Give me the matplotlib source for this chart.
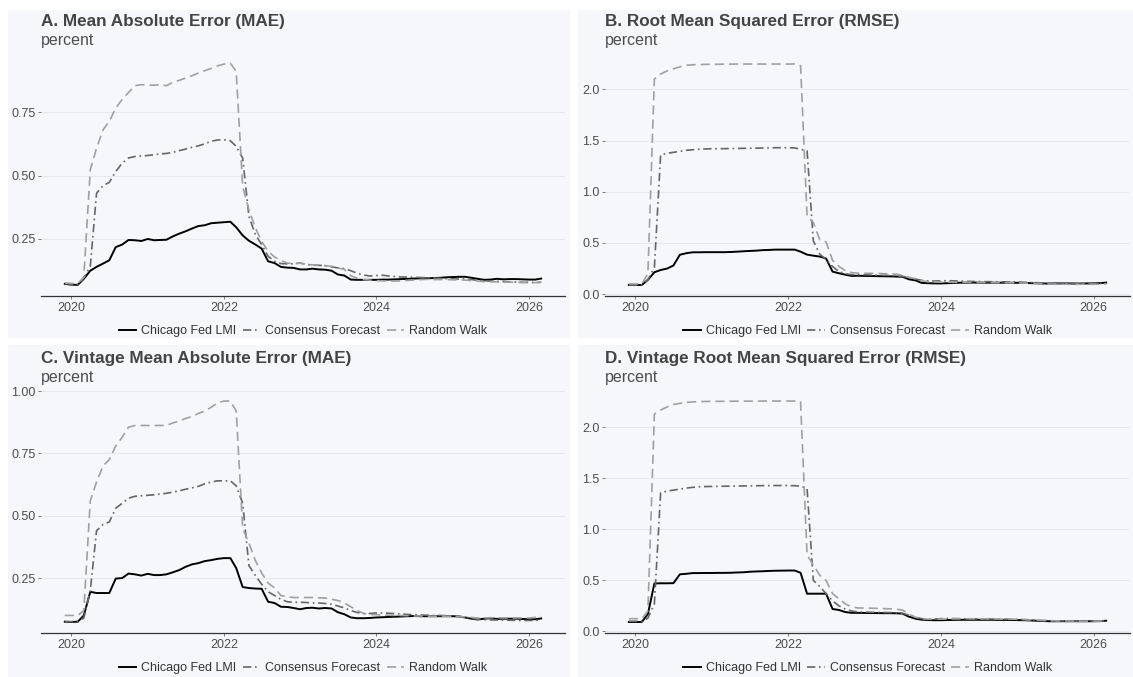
import pandas as pd
import matplotlib.pyplot as plt
import matplotlib.dates as mdates
import matplotlib.ticker as ticker
from matplotlib.patches import Rectangle

plt.rcParams['font.family'] = ['Liberation Sans', 'DejaVu Sans']

# monthly evaluation dates, Dec 2019 - Mar 2026
months = pd.date_range('2019-12-01', periods=76, freq='MS')
series_names = ['Chicago Fed LMI', 'Consensus Forecast', 'Random Walk']
titles = ['A. Mean Absolute Error (MAE)',
          'B. Root Mean Squared Error (RMSE)',
          'C. Vintage Mean Absolute Error (MAE)',
          'D. Vintage Root Mean Squared Error (RMSE)']
subtitle = 'percent'

# A. MAE
lmi_mae = [0.073, 0.070, 0.069, 0.093, 0.125, 0.140, 0.153, 0.166, 0.218, 0.228,
           0.246, 0.245, 0.242, 0.250, 0.245, 0.246, 0.247, 0.260, 0.271, 0.280,
           0.291, 0.301, 0.304, 0.312, 0.314, 0.316, 0.318, 0.296, 0.264, 0.243,
           0.228, 0.212, 0.162, 0.155, 0.140, 0.137, 0.136, 0.130, 0.130, 0.133,
           0.130, 0.129, 0.125, 0.110, 0.106, 0.090, 0.089, 0.089, 0.089, 0.089,
           0.090, 0.090, 0.091, 0.092, 0.093, 0.094, 0.095, 0.095, 0.096, 0.097,
           0.099, 0.100, 0.101, 0.101, 0.097, 0.093, 0.089, 0.090, 0.093, 0.091,
           0.092, 0.092, 0.091, 0.090, 0.090, 0.094]
cons_mae = [0.074, 0.072, 0.071, 0.096, 0.142, 0.430, 0.460, 0.473, 0.516, 0.549,
            0.569, 0.575, 0.577, 0.579, 0.582, 0.585, 0.587, 0.591, 0.598, 0.604,
            0.611, 0.617, 0.625, 0.635, 0.640, 0.641, 0.637, 0.615, 0.569, 0.339,
            0.267, 0.228, 0.182, 0.162, 0.153, 0.152, 0.152, 0.155, 0.150, 0.147,
            0.146, 0.145, 0.140, 0.136, 0.133, 0.125, 0.115, 0.108, 0.104, 0.106,
            0.107, 0.104, 0.102, 0.100, 0.100, 0.099, 0.098, 0.097, 0.096, 0.095,
            0.094, 0.093, 0.092, 0.092, 0.090, 0.087, 0.085, 0.084, 0.083, 0.082,
            0.081, 0.080, 0.079, 0.079, 0.078, 0.080]
rw_mae = [0.077, 0.075, 0.074, 0.100, 0.523, 0.608, 0.680, 0.713, 0.766, 0.800,
          0.827, 0.854, 0.858, 0.856, 0.856, 0.858, 0.854, 0.867, 0.875, 0.884,
          0.893, 0.904, 0.913, 0.922, 0.932, 0.939, 0.943, 0.910, 0.457, 0.365,
          0.293, 0.241, 0.201, 0.179, 0.165, 0.155, 0.153, 0.155, 0.150, 0.148,
          0.147, 0.145, 0.142, 0.136, 0.130, 0.105, 0.095, 0.090, 0.088, 0.086,
          0.085, 0.084, 0.084, 0.085, 0.087, 0.088, 0.090, 0.091, 0.090, 0.090,
          0.090, 0.089, 0.089, 0.088, 0.086, 0.084, 0.082, 0.081, 0.081, 0.080,
          0.080, 0.079, 0.079, 0.079, 0.078, 0.079]

# B. RMSE
lmi_rmse = [0.090, 0.090, 0.090, 0.140, 0.214, 0.236, 0.250, 0.280, 0.385, 0.400,
            0.409, 0.409, 0.410, 0.410, 0.410, 0.410, 0.412, 0.415, 0.419, 0.422,
            0.425, 0.430, 0.432, 0.435, 0.435, 0.435, 0.435, 0.415, 0.386, 0.376,
            0.367, 0.348, 0.220, 0.204, 0.190, 0.178, 0.180, 0.178, 0.177, 0.176,
            0.175, 0.174, 0.172, 0.170, 0.145, 0.135, 0.110, 0.107, 0.105, 0.105,
            0.107, 0.110, 0.112, 0.112, 0.113, 0.113, 0.112, 0.112, 0.112, 0.112,
            0.112, 0.111, 0.110, 0.108, 0.106, 0.104, 0.104, 0.105, 0.105, 0.105,
            0.104, 0.104, 0.105, 0.106, 0.108, 0.113]
cons_rmse = [0.090, 0.090, 0.090, 0.140, 0.260, 1.360, 1.375, 1.385, 1.395, 1.405,
             1.410, 1.415, 1.418, 1.420, 1.420, 1.421, 1.422, 1.423, 1.424, 1.425,
             1.426, 1.427, 1.428, 1.430, 1.430, 1.430, 1.428, 1.415, 1.400, 0.520,
             0.390, 0.340, 0.270, 0.220, 0.200, 0.190, 0.190, 0.190, 0.188, 0.186,
             0.185, 0.183, 0.180, 0.175, 0.160, 0.148, 0.135, 0.130, 0.128, 0.130,
             0.132, 0.130, 0.128, 0.126, 0.124, 0.123, 0.122, 0.122, 0.121, 0.120,
             0.119, 0.118, 0.116, 0.114, 0.112, 0.110, 0.108, 0.107, 0.106, 0.105,
             0.104, 0.103, 0.103, 0.103, 0.104, 0.108]
rw_rmse = [0.100, 0.100, 0.100, 0.200, 2.100, 2.150, 2.180, 2.200, 2.220, 2.235,
           2.240, 2.242, 2.244, 2.245, 2.245, 2.246, 2.246, 2.247, 2.247, 2.247,
           2.247, 2.247, 2.247, 2.247, 2.247, 2.247, 2.247, 2.230, 0.760, 0.700,
           0.530, 0.510, 0.330, 0.270, 0.230, 0.210, 0.205, 0.204, 0.204, 0.202,
           0.200, 0.198, 0.195, 0.185, 0.165, 0.150, 0.130, 0.122, 0.120, 0.118,
           0.118, 0.117, 0.117, 0.116, 0.116, 0.115, 0.115, 0.114, 0.113, 0.112,
           0.111, 0.110, 0.108, 0.106, 0.104, 0.102, 0.100, 0.099, 0.098, 0.097,
           0.097, 0.097, 0.097, 0.097, 0.098, 0.100]

# C. vintage MAE
lmi_vmae = [0.075, 0.074, 0.075, 0.100, 0.195, 0.190, 0.190, 0.190, 0.248, 0.250,
            0.268, 0.265, 0.260, 0.267, 0.262, 0.262, 0.265, 0.273, 0.282, 0.295,
            0.305, 0.310, 0.318, 0.322, 0.327, 0.330, 0.330, 0.290, 0.214, 0.210,
            0.208, 0.207, 0.155, 0.150, 0.135, 0.134, 0.130, 0.125, 0.130, 0.131,
            0.128, 0.130, 0.128, 0.113, 0.105, 0.092, 0.089, 0.089, 0.090, 0.092,
            0.093, 0.094, 0.095, 0.096, 0.097, 0.098, 0.097, 0.097, 0.097, 0.097,
            0.097, 0.097, 0.096, 0.092, 0.087, 0.084, 0.087, 0.089, 0.086, 0.087,
            0.087, 0.087, 0.086, 0.085, 0.085, 0.088]
cons_vmae = [0.075, 0.075, 0.075, 0.090, 0.200, 0.440, 0.465, 0.475, 0.530, 0.550,
             0.570, 0.578, 0.580, 0.582, 0.584, 0.587, 0.590, 0.595, 0.600, 0.606,
             0.612, 0.618, 0.628, 0.635, 0.640, 0.640, 0.640, 0.620, 0.550, 0.300,
             0.260, 0.225, 0.195, 0.180, 0.165, 0.155, 0.153, 0.153, 0.152, 0.150,
             0.150, 0.148, 0.145, 0.138, 0.130, 0.120, 0.112, 0.108, 0.108, 0.110,
             0.110, 0.109, 0.107, 0.106, 0.104, 0.103, 0.102, 0.101, 0.100, 0.100,
             0.099, 0.098, 0.096, 0.093, 0.089, 0.085, 0.083, 0.082, 0.082, 0.081,
             0.081, 0.080, 0.080, 0.080, 0.080, 0.082]
rw_vmae = [0.100, 0.100, 0.100, 0.120, 0.560, 0.635, 0.700, 0.725, 0.780, 0.815,
           0.855, 0.862, 0.862, 0.862, 0.862, 0.862, 0.862, 0.872, 0.880, 0.890,
           0.898, 0.910, 0.920, 0.935, 0.952, 0.960, 0.960, 0.920, 0.450, 0.390,
           0.320, 0.270, 0.230, 0.210, 0.180, 0.175, 0.172, 0.172, 0.172, 0.172,
           0.171, 0.170, 0.165, 0.160, 0.150, 0.135, 0.120, 0.108, 0.104, 0.103,
           0.102, 0.101, 0.100, 0.100, 0.099, 0.098, 0.098, 0.097, 0.097, 0.097,
           0.097, 0.097, 0.096, 0.094, 0.092, 0.090, 0.090, 0.091, 0.091, 0.090,
           0.090, 0.090, 0.090, 0.090, 0.092, 0.097]

# D. vintage RMSE
lmi_vrmse = [0.093, 0.093, 0.093, 0.170, 0.470, 0.472, 0.472, 0.473, 0.560, 0.565,
             0.572, 0.572, 0.573, 0.573, 0.574, 0.574, 0.575, 0.578, 0.580, 0.585,
             0.588, 0.590, 0.593, 0.595, 0.596, 0.597, 0.597, 0.575, 0.370, 0.370,
             0.370, 0.370, 0.220, 0.210, 0.190, 0.182, 0.182, 0.181, 0.180, 0.180,
             0.179, 0.179, 0.178, 0.175, 0.145, 0.125, 0.115, 0.112, 0.110, 0.110,
             0.112, 0.113, 0.114, 0.114, 0.114, 0.114, 0.114, 0.114, 0.113, 0.113,
             0.112, 0.111, 0.110, 0.108, 0.105, 0.102, 0.100, 0.100, 0.100, 0.100,
             0.100, 0.100, 0.100, 0.100, 0.101, 0.105]
cons_vrmse = [0.100, 0.100, 0.100, 0.130, 0.270, 1.360, 1.375, 1.385, 1.395, 1.405,
              1.412, 1.418, 1.420, 1.421, 1.422, 1.423, 1.424, 1.425, 1.426, 1.427,
              1.428, 1.429, 1.429, 1.430, 1.430, 1.430, 1.428, 1.425, 1.400, 0.500,
              0.440, 0.370, 0.300, 0.250, 0.220, 0.200, 0.190, 0.190, 0.188, 0.187,
              0.186, 0.185, 0.183, 0.178, 0.160, 0.140, 0.125, 0.122, 0.122, 0.125,
              0.127, 0.126, 0.125, 0.124, 0.123, 0.122, 0.122, 0.121, 0.120, 0.120,
              0.119, 0.118, 0.116, 0.113, 0.110, 0.107, 0.105, 0.104, 0.103, 0.102,
              0.101, 0.101, 0.100, 0.100, 0.101, 0.105]
rw_vrmse = [0.125, 0.125, 0.125, 0.200, 2.130, 2.170, 2.200, 2.225, 2.235, 2.245,
            2.250, 2.252, 2.254, 2.255, 2.255, 2.256, 2.256, 2.257, 2.257, 2.257,
            2.257, 2.258, 2.258, 2.258, 2.258, 2.258, 2.258, 2.250, 0.750, 0.650,
            0.550, 0.500, 0.370, 0.320, 0.270, 0.240, 0.230, 0.230, 0.228, 0.226,
            0.224, 0.222, 0.218, 0.210, 0.170, 0.140, 0.125, 0.120, 0.120, 0.120,
            0.122, 0.123, 0.124, 0.124, 0.124, 0.123, 0.123, 0.122, 0.121, 0.120,
            0.120, 0.119, 0.117, 0.114, 0.111, 0.108, 0.105, 0.104, 0.103, 0.102,
            0.101, 0.100, 0.100, 0.100, 0.102, 0.108]

panels = [
    (lmi_mae, cons_mae, rw_mae),
    (lmi_rmse, cons_rmse, rw_rmse),
    (lmi_vmae, cons_vmae, rw_vmae),
    (lmi_vrmse, cons_vrmse, rw_vrmse),
]

line_styles = [
    dict(color='black', lw=1.4, ls='-'),
    dict(color='#666666', lw=1.2, ls=(0, (5, 2.2, 1, 2.2))),
    dict(color='#a0a0a0', lw=1.2, ls=(0, (5.5, 3))),
]

W, H = 1133, 677
bg = '#f5f7fa'
grid_col = '#e6e8ec'
text_col = '#4d4d4d'


def px_box(left, top, right, bottom):
    # pixel box (from top-left) -> figure fraction rect
    return [left / W, 1 - bottom / H, (right - left) / W, (bottom - top) / H]


fig = plt.figure(figsize=(W / 100, H / 100), dpi=100)
fig.patch.set_facecolor('white')

panel_boxes = [(8, 10, 570, 338), (578, 10, 1133, 338),
               (8, 345, 570, 677), (578, 345, 1133, 677)]
axes_boxes = [(41, 52, 565, 296), (605, 53, 1130, 296),
              (41, 390, 565, 633), (605, 390, 1130, 633)]
title_base = [26, 26, 363, 363]
sub_base = [45, 45, 382, 382]
y_steps = [0.25, 0.5, 0.25, 0.5]
y_fmt = ['%.2f', '%.1f', '%.2f', '%.1f']

# light panel backgrounds behind each chart
for l, t, r, b in panel_boxes:
    fig.patches.append(Rectangle((l / W, 1 - b / H), (r - l) / W, (b - t) / H,
                                 transform=fig.transFigure, facecolor=bg,
                                 edgecolor='none', zorder=-10))

for k in range(4):
    ax = fig.add_axes(px_box(*axes_boxes[k]))
    ax.set_zorder(1)
    ax.set_facecolor(bg)
    for vals, name, st in zip(panels[k], series_names, line_styles):
        ax.plot(months, vals, label=name, **st)

    ax.margins(x=0.05, y=0.05)
    ax.yaxis.set_major_locator(ticker.MultipleLocator(y_steps[k]))
    ax.yaxis.set_major_formatter(ticker.FormatStrFormatter(y_fmt[k]))
    ax.xaxis.set_major_locator(mdates.YearLocator(2))
    ax.xaxis.set_major_formatter(mdates.DateFormatter('%Y'))

    ax.grid(axis='y', color=grid_col, lw=0.8)
    ax.set_axisbelow(True)
    for side in ['top', 'right', 'left']:
        ax.spines[side].set_visible(False)
    ax.spines['bottom'].set_color('#333333')
    ax.spines['bottom'].set_linewidth(0.9)
    ax.tick_params(axis='both', labelsize=9, labelcolor=text_col,
                   color='#666666', length=2.5, width=0.6)
    ax.tick_params(axis='y', pad=1.5)
    ax.tick_params(axis='x', pad=2)

    ax.legend(loc='center', bbox_to_anchor=(0.5, -0.145), ncol=3, frameon=False,
              fontsize=9, handlelength=1.4, handletextpad=0.4,
              columnspacing=0.5, labelcolor='#333333')

    x0 = axes_boxes[k][0]
    fig.text(x0 / W, 1 - title_base[k] / H, titles[k], fontsize=12.3,
             fontweight='bold', color='#444444', va='baseline', ha='left')
    fig.text(x0 / W, 1 - sub_base[k] / H, subtitle, fontsize=11.5,
             color=text_col, va='baseline', ha='left')

plt.savefig('out.png', dpi=100, facecolor='white')
